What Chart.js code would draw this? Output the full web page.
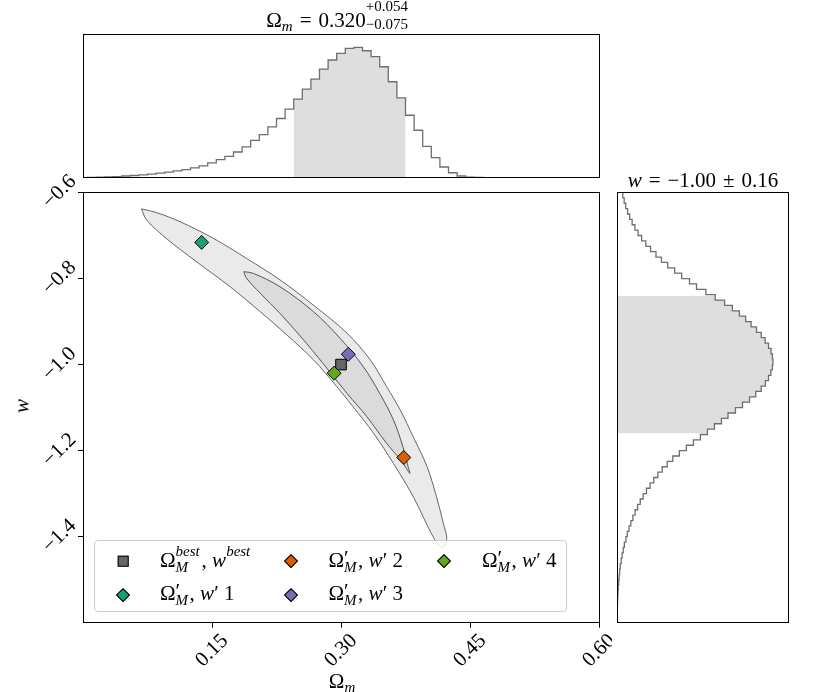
<!DOCTYPE html>
<html>
<head>
<meta charset="utf-8">
<script src="https://cdn.jsdelivr.net/npm/chart.js@4.4.0/dist/chart.umd.min.js"></script>
<style>
  html, body { margin:0; padding:0; background:#fff; }
  body { position:relative; width:830px; height:692px; overflow:hidden;
         font-family:"Liberation Serif","DejaVu Serif",serif; color:#000; }
  canvas { position:absolute; }
  .txt { position:absolute; white-space:nowrap; font-size:21px; line-height:21px; }
  .sub { font-size:15px; position:relative; top:4px; }
  .op { margin:0 7px; }
  .ss { display:inline-block; position:relative; height:1px; vertical-align:baseline; }
  .ss > span { position:absolute; left:0; font-size:15px; line-height:15px; white-space:nowrap; }
  .ss > .hi { bottom:8.6px; }
  .ss > .lo { bottom:-7.4px; }
  .ss > .pr { font-size:21px; line-height:21px; bottom:-1.5px; }
  #t_top .ss > .hi { bottom:13.3px; }
  #t_top .ss > .lo { bottom:-4.9px; }
  #legend { position:absolute; left:94px; top:540px; width:471px; height:70px;
            border:1px solid #cccccc; border-radius:4px; background:rgba(255,255,255,0.8); }
  .mk { position:absolute; box-sizing:border-box; border:1px solid #000; }
</style>
</head>
<body>
<canvas id="top_hist" width="523" height="152" style="left:80px;top:30px"></canvas>
<canvas id="main_chart" width="612" height="532" style="left:0px;top:160px"></canvas>
<canvas id="side_hist" width="180" height="442" style="left:612px;top:186px"></canvas>

<div id="legend"></div>

<div class="txt" id="t_top" style="left:337px;top:10.4px;transform:translateX(-50%)">&Omega;<span class="sub"><i>m</i></span><span class="op">=</span>0.320<span class="ss" style="width:42px"><span class="hi">+0.054</span><span class="lo">&minus;0.075</span></span></div>
<div class="txt" id="t_side" style="left:703px;top:170.4px;transform:translateX(-50%)"><i>w</i><span class="op">=</span>&minus;1.00<span class="op">&plusmn;</span>0.16</div>
<div class="txt" id="x_title" style="left:342px;top:671px;transform:translateX(-50%)">&Omega;<span class="sub"><i>m</i></span></div>
<div class="txt" id="y_title" style="left:22px;top:406px;transform:translate(-50%,-50%) rotate(-90deg)"><i>w</i></div>

<script>
// marginal of Omega_m: bins of 0.01 centred on 0.00, 0.01 ... 0.60
var omBinWidth = 0.01;
var omFirstEdge = -0.005;
var omHist = [0.001, 0.002, 0.004, 0.006, 0.009, 0.013, 0.017, 0.022, 0.028, 0.035,
              0.043, 0.052, 0.062, 0.075, 0.090, 0.113, 0.138, 0.164, 0.197, 0.236,
              0.287, 0.331, 0.390, 0.454, 0.526, 0.603, 0.679, 0.756, 0.833, 0.903,
              0.954, 0.992, 1.000, 0.974, 0.928, 0.851, 0.736, 0.613, 0.479, 0.364,
              0.241, 0.154, 0.082, 0.038, 0.013, 0.005, 0.002, 0.001, 0, 0,
              0, 0, 0, 0, 0, 0, 0, 0, 0, 0, 0];
var omShade = [0.245, 0.375];

// marginal of w: bins of 0.0125 from -1.6 up to -0.6
var wBinWidth = 0.0125;
var wFirstEdge = -1.6;
var wHist = [0.000, 0.001, 0.002, 0.003, 0.004, 0.006, 0.008, 0.011, 0.014, 0.017,
             0.021, 0.027, 0.033, 0.040, 0.047, 0.057, 0.066, 0.077, 0.089, 0.102,
             0.116, 0.132, 0.149, 0.168, 0.189, 0.212, 0.236, 0.262, 0.290, 0.322,
             0.358, 0.400, 0.445, 0.490, 0.535, 0.580, 0.625, 0.670, 0.712, 0.760,
             0.805, 0.850, 0.890, 0.925, 0.952, 0.972, 0.987, 0.997, 1.000, 0.997,
             0.988, 0.972, 0.950, 0.925, 0.895, 0.860, 0.825, 0.785, 0.740, 0.690,
             0.630, 0.570, 0.510, 0.465, 0.415, 0.370, 0.325, 0.285, 0.250, 0.215,
             0.185, 0.158, 0.135, 0.115, 0.097, 0.081, 0.068, 0.056, 0.046, 0.037];
var wShade = [-1.16, -0.84];

// 2d contours (Omega_m, w)
var outerOm = [0.068, 0.086, 0.113, 0.152, 0.190, 0.229, 0.268, 0.307, 0.334, 0.353,
               0.369, 0.384, 0.400, 0.411, 0.419, 0.423, 0.417, 0.407, 0.384, 0.361,
               0.338, 0.314, 0.295, 0.268, 0.237, 0.206, 0.171, 0.132, 0.097, 0.074, 0.068];
var outerW = [-0.638, -0.647, -0.668, -0.707, -0.753, -0.803, -0.862, -0.927, -0.989, -1.051,
              -1.106, -1.168, -1.237, -1.307, -1.369, -1.408, -1.426, -1.400, -1.307, -1.230,
              -1.160, -1.098, -1.051, -0.989, -0.931, -0.877, -0.819, -0.761, -0.707, -0.664, -0.638];
var innerOm = [0.187, 0.198, 0.229, 0.268, 0.299, 0.326, 0.345, 0.361, 0.372, 0.378,
               0.380, 0.371, 0.353, 0.330, 0.307, 0.287, 0.260, 0.229, 0.206, 0.190, 0.187];
var innerW = [-0.784, -0.788, -0.819, -0.877, -0.939, -1.005, -1.067, -1.129, -1.191, -1.237,
              -1.253, -1.226, -1.183, -1.121, -1.067, -1.017, -0.951, -0.881, -0.834, -0.799, -0.784];

// marked points
var pointLabels = [
  '&Omega;<span class="ss" style="width:26px"><span class="hi"><i>best</i></span><span class="lo"><i>M</i></span></span>, <i>w</i><span class="ss" style="width:25px"><span class="hi"><i>best</i></span></span>',
  '&Omega;<span class="ss" style="width:14px"><span class="pr">&prime;</span><span class="lo"><i>M</i></span></span>, <i>w</i>&prime; 1',
  '&Omega;<span class="ss" style="width:14px"><span class="pr">&prime;</span><span class="lo"><i>M</i></span></span>, <i>w</i>&prime; 2',
  '&Omega;<span class="ss" style="width:14px"><span class="pr">&prime;</span><span class="lo"><i>M</i></span></span>, <i>w</i>&prime; 3',
  '&Omega;<span class="ss" style="width:14px"><span class="pr">&prime;</span><span class="lo"><i>M</i></span></span>, <i>w</i>&prime; 4'
];
var pointOm = [0.300, 0.138, 0.373, 0.3085, 0.292];
var pointW = [-1.000, -0.716, -1.216, -0.976, -1.020];
var pointColors = ['#666666', '#1b9e77', '#d95f02', '#7570b3', '#66a61e'];

var omTicks = [0.15, 0.30, 0.45, 0.60];
var wTicks = [-1.4, -1.2, -1.0, -0.8, -0.6];

var serif = 'Liberation Serif';

// stepped outline: one point per bin start edge + a closing point
function stepPoints(first, width, vals) {
    var pts = [];
    for (var i = 0; i < vals.length; i++) pts.push({e: first + i * width, v: vals[i]});
    pts.push({e: first + vals.length * width, v: vals[vals.length - 1]});
    return pts;
}
function shadePoints(first, width, vals, lo, hi) {
    var pts = [], last = 0;
    for (var i = 0; i < vals.length; i++) {
        var a = first + i * width, b = a + width;
        if (b > lo + 1e-9 && a < hi - 1e-9) { pts.push({e: Math.max(a, lo), v: vals[i]}); last = vals[i]; }
    }
    pts.push({e: hi, v: last});
    return pts;
}

// box round every panel
var framePlugin = {
    id: 'frame',
    afterDraw: function(chart) {
        var a = chart.chartArea, ctx = chart.ctx;
        var l = Math.round(a.left - 0.5) + 0.5, t = Math.round(a.top - 0.5) + 0.5;
        var r = Math.round(a.right - 0.5) + 0.5, b = Math.round(a.bottom - 0.5) + 0.5;
        ctx.save();
        ctx.strokeStyle = '#000';
        ctx.lineWidth = 1;
        ctx.strokeRect(l, t, r - l, b - t);
        ctx.restore();
    }
};

var hidden = {display: false};

// top marginal
var topLine = stepPoints(omFirstEdge, omBinWidth, omHist).map(function(p) { return {x: p.e, y: p.v}; });
var topShade = shadePoints(omFirstEdge, omBinWidth, omHist, omShade[0], omShade[1]).map(function(p) { return {x: p.e, y: p.v}; });
new Chart(document.getElementById('top_hist'), {
    type: 'line',
    data: {
        datasets: [{
            data: topLine, stepped: 'before', borderColor: '#6e6e6e', borderWidth: 1.3,
            pointRadius: 0, fill: false
        }, {
            data: topShade, stepped: 'before', borderWidth: 0, backgroundColor: '#dedede',
            pointRadius: 0, fill: 'origin'
        }]
    },
    options: {
        responsive: false, animation: false,
        layout: {padding: {left: 3, top: 4.3, right: 4, bottom: 4.3}},
        plugins: {legend: hidden, tooltip: {enabled: false}},
        scales: {
            x: {type: 'linear', min: 0, max: 0.6, display: false},
            y: {type: 'linear', min: 0, max: 1.1, display: false}
        }
    },
    plugins: [framePlugin]
});

// side marginal (w on the vertical axis)
var sideLine = stepPoints(wFirstEdge, wBinWidth, wHist).map(function(p) { return {x: p.v, y: p.e}; });
var sideShade = shadePoints(wFirstEdge, wBinWidth, wHist, wShade[0], wShade[1]).map(function(p) { return {x: p.v, y: p.e}; });
new Chart(document.getElementById('side_hist'), {
    type: 'line',
    data: {
        datasets: [{
            data: sideLine, stepped: 'after', borderColor: '#6e6e6e', borderWidth: 1.3,
            pointRadius: 0, fill: false
        }, {
            data: sideShade, stepped: 'after', borderWidth: 0, backgroundColor: '#dedede',
            pointRadius: 0, fill: 'origin'
        }]
    },
    options: {
        indexAxis: 'y',
        responsive: false, animation: false,
        layout: {padding: {left: 5, top: 6.5, right: 3.5, bottom: 5.3}},
        plugins: {legend: hidden, tooltip: {enabled: false}},
        scales: {
            x: {type: 'linear', min: 0, max: 1.1, display: false},
            y: {type: 'linear', min: -1.6, max: -0.6, display: false}
        }
    },
    plugins: [framePlugin]
});

// main 2d panel
var mainSets = [];
for (var k = pointOm.length - 1; k >= 0; k--) {
    mainSets.push({
        data: [{x: pointOm[k], y: pointW[k]}],
        showLine: false,
        pointStyle: k === 0 ? 'rect' : 'rectRot',
        pointRadius: k === 0 ? 7.5 : 7,
        pointHoverRadius: k === 0 ? 7.5 : 7,
        pointBackgroundColor: pointColors[k],
        pointBorderColor: '#000',
        pointBorderWidth: 1
    });
}
mainSets.push({
    data: innerOm.map(function(x, i) { return {x: x, y: innerW[i]}; }),
    showLine: true, fill: 'shape', backgroundColor: '#dbdbdb',
    borderColor: '#555555', borderWidth: 1, pointRadius: 0, tension: 0.35
});
mainSets.push({
    data: outerOm.map(function(x, i) { return {x: x, y: outerW[i]}; }),
    showLine: true, fill: 'shape', backgroundColor: '#eaeaea',
    borderColor: '#666666', borderWidth: 1, pointRadius: 0, tension: 0.35
});

new Chart(document.getElementById('main_chart'), {
    type: 'line',
    data: {datasets: mainSets},
    options: {
        responsive: false, animation: false,
        layout: {padding: {left: 0, top: 32.5, right: 13, bottom: 0}},
        plugins: {legend: hidden, tooltip: {enabled: false}},
        scales: {
            x: {
                type: 'linear', min: 0, max: 0.6,
                afterFit: function(s) { s.height = 69.3; s.paddingLeft = 0; s.paddingRight = 0; },
                afterBuildTicks: function(s) { s.ticks = omTicks.map(function(v) { return {value: v}; }); },
                ticks: {
                    autoSkip: false, minRotation: 45, maxRotation: 45, padding: 1, labelOffset: 13,
                    color: '#000', font: {family: serif, size: 21},
                    callback: function(v) { return v.toFixed(2); }
                },
                grid: {drawOnChartArea: false, drawTicks: true, tickLength: 5, color: '#000'},
                border: {display: true, color: '#000', width: 1}
            },
            y: {
                type: 'linear', min: -1.6, max: -0.6,
                afterFit: function(s) { s.width = 83; s.paddingTop = 0; s.paddingBottom = 0; },
                afterBuildTicks: function(s) { s.ticks = wTicks.map(function(v) { return {value: v}; }); },
                ticks: {
                    autoSkip: false, minRotation: 45, maxRotation: 45, padding: 5, labelOffset: -14,
                    color: '#000', font: {family: serif, size: 21},
                    callback: function(v) { return v.toFixed(1).replace('-', '\u2212'); }
                },
                grid: {drawOnChartArea: false, drawTicks: true, tickLength: 5, color: '#000'},
                border: {display: true, color: '#000', width: 1}
            }
        }
    },
    plugins: [framePlugin]
});

// legend, filled column by column like the original (2 rows, 3 columns)
var legCols = [123, 290.7, 444.2];
var legTextCols = [160, 328.5, 482];
var legRows = [561, 594.7];
var legBase = [568, 601];
for (var j = 0; j < pointLabels.length; j++) {
    var col = Math.floor(j / 2), row = j % 2;
    var mk = document.createElement('div');
    mk.className = 'mk';
    var sz = j === 0 ? 10.6 : 9.9;
    mk.style.width = sz + 'px';
    mk.style.height = sz + 'px';
    mk.style.left = legCols[col] + 'px';
    mk.style.top = legRows[row] + 'px';
    mk.style.background = pointColors[j];
    mk.style.transform = j === 0 ? 'translate(-50%,-50%)' : 'translate(-50%,-50%) rotate(45deg)';
    document.body.appendChild(mk);
    var tx = document.createElement('div');
    tx.className = 'txt';
    tx.style.left = legTextCols[col] + 'px';
    tx.style.top = (legBase[row] - 17.6) + 'px';
    tx.innerHTML = pointLabels[j];
    document.body.appendChild(tx);
}
</script>
</body>
</html>
